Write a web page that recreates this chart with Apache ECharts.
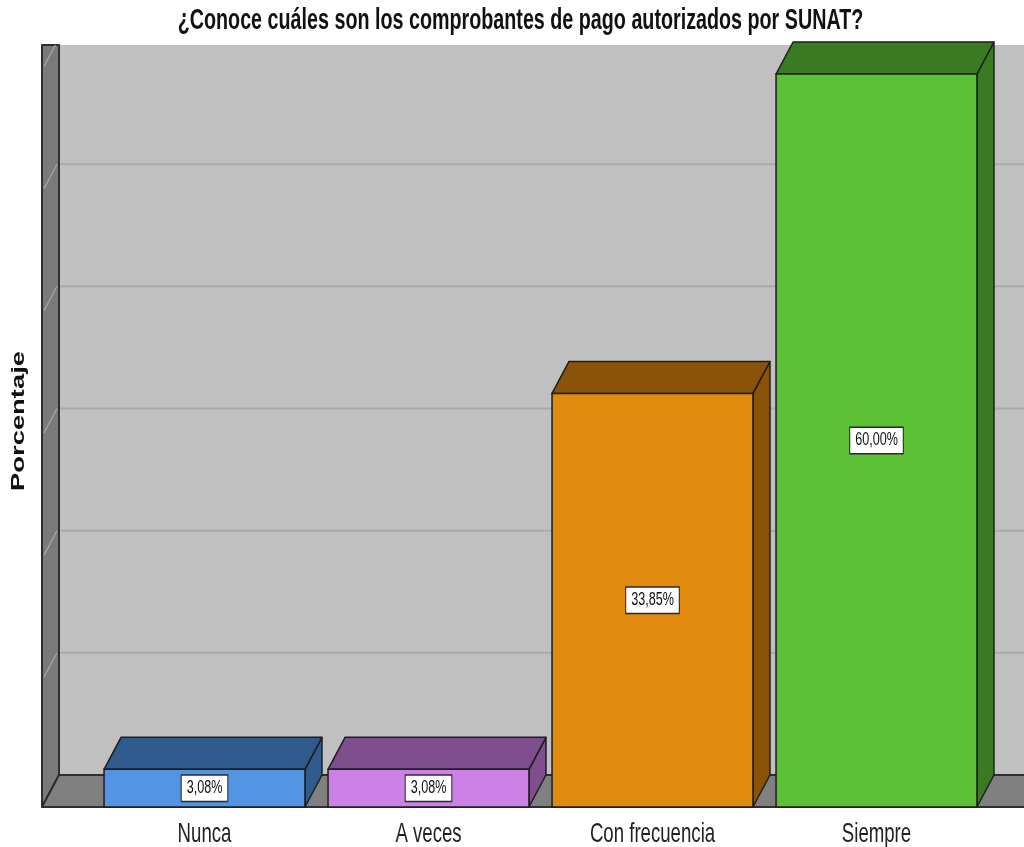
<!DOCTYPE html>
<html>
<head>
<meta charset="utf-8">
<script src="https://cdn.jsdelivr.net/npm/echarts@6/dist/echarts.min.js"></script>
<style>
html,body{margin:0;padding:0;background:#fff;}
#chart{width:1024px;height:847px;}
</style>
</head>
<body>
<div id="chart"></div>
<script>
const titleText = '¿Conoce cuáles son los comprobantes de pago autorizados por SUNAT?';
const yAxisTitle = 'Porcentaje';
const categories = ['Nunca', 'A veces', 'Con frecuencia', 'Siempre'];
const percentages = [3.08, 3.08, 33.85, 60.00];
const yTicks = [0, 10, 20, 30, 40, 50, 60];

const frontColors = ['#5394e3', '#cd80e6', '#e08a10', '#5dc136'];
const topColors = ['#2f5b8f', '#7e4e8f', '#8a5408', '#3a7a22'];
const sideColors = ['#2f5b8f', '#7e4e8f', '#8a5408', '#3a7a22'];

const DX = 17, DY = -32;
const SQUEEZE = 0.665;
const FONT = '"Liberation Sans", Arial, sans-serif';

const chart = echarts.init(document.getElementById('chart'), null, {renderer: 'canvas'});

function wallsRender(params, api) {
  const cs = params.coordSys;
  const y0 = api.coord([0, 0])[1];
  const yTop = api.coord([0, yTicks[yTicks.length - 1]])[1];
  const x0 = cs.x - 50.5;
  const xR = 1040;
  const topClip = yTop + DY + 3;
  const children = [];
  children.push({type: 'rect', shape: {x: x0 + DX, y: topClip, width: xR - x0 - DX, height: y0 + DY - topClip},
    style: {fill: '#c0c0c0', stroke: null}});
  yTicks.forEach(function (v) {
    if (v === 0) return;
    const gy = api.coord([0, v])[1] + DY;
    if (gy > topClip) {
      children.push({type: 'line', shape: {x1: x0 + DX, y1: gy, x2: xR, y2: gy}, style: {stroke: '#aaaaaa', lineWidth: 2}});
    }
  });
  children.push({type: 'polygon', shape: {points: [[x0, y0], [x0 + DX, y0 + DY], [x0 + DX, topClip], [x0, topClip]]},
    style: {fill: '#7a7a7a', stroke: '#2e2e2e', lineWidth: 2, lineJoin: 'round'}});
  yTicks.forEach(function (v) {
    if (v === 0) return;
    const gy = api.coord([0, v])[1] + DY;
    let xa = x0 + DX - 2, ya = gy, xb = x0 + 2, yb = gy - DY * (DX - 4) / DX;
    if (ya < topClip) {
      const t = (topClip - ya) / (yb - ya);
      xa = xa + (xb - xa) * t; ya = topClip;
    }
    children.push({type: 'line', shape: {x1: xa, y1: ya, x2: xb, y2: yb}, style: {stroke: '#a8a8a8', lineWidth: 1.2}});
  });
  children.push({type: 'polygon', shape: {points: [[x0, y0], [x0 + DX, y0 + DY], [xR, y0 + DY], [xR, y0]]},
    style: {fill: '#808080', stroke: '#2e2e2e', lineWidth: 2, lineJoin: 'round'}});
  return {type: 'group', children: children};
}

function barRender(params, api) {
  const i = api.value(0);
  const v = api.value(1);
  const c = api.coord([i, v]);
  const b = api.coord([i, 0]);
  const w = api.size([1, 0])[0] * 0.897;
  const x1 = c[0] - w / 2, x2 = c[0] + w / 2, yt = c[1], yb = b[1];
  const stroke = '#1e1e1e';
  const label = v.toFixed(2).replace('.', ',') + '%';
  return {type: 'group', children: [
    {type: 'polygon', shape: {points: [[x2, yt], [x2 + DX, yt + DY], [x2 + DX, yb + DY], [x2, yb]]},
      style: {fill: sideColors[i], stroke: stroke, lineWidth: 1.5, lineJoin: 'round'}},
    {type: 'polygon', shape: {points: [[x1, yt], [x1 + DX, yt + DY], [x2 + DX, yt + DY], [x2, yt]]},
      style: {fill: topColors[i], stroke: stroke, lineWidth: 1.5, lineJoin: 'round'}},
    {type: 'rect', shape: {x: x1, y: yt, width: w, height: yb - yt},
      style: {fill: frontColors[i], stroke: stroke, lineWidth: 1.5}},
    {type: 'text', x: c[0], y: (yt + yb) / 2, scaleX: 0.7,
      style: {text: label, align: 'center', verticalAlign: 'middle', fill: '#111',
        font: '18px ' + FONT, backgroundColor: '#ffffff', borderColor: '#2a2a2a', borderWidth: 1.5,
        padding: [4, 7, 3, 7]}}
  ]};
}

function catLabelRender(params, api) {
  const i = api.value(0);
  const b = api.coord([i, 0]);
  return {type: 'text', x: b[0], y: b[1] + 27, scaleX: SQUEEZE,
    style: {text: categories[i], align: 'center', verticalAlign: 'middle', fill: '#222', font: '28px ' + FONT}};
}

const option = {
  backgroundColor: '#ffffff',
  animation: false,
  grid: {left: 92.5, right: 35.5, top: 74, bottom: 40, containLabel: false},
  xAxis: {
    type: 'category', data: categories,
    axisLine: {show: false}, axisTick: {show: false}, splitLine: {show: false},
    axisLabel: {show: false}
  },
  yAxis: {
    type: 'value', min: 0, max: 60, interval: 10,
    axisLine: {show: false}, axisTick: {show: false}, axisLabel: {show: false}, splitLine: {show: false}
  },
  graphic: [{
    type: 'text', x: 520.5, y: 21, scaleX: 0.68,
    style: {text: titleText, align: 'center', verticalAlign: 'middle',
      font: 'bold 29px ' + FONT, fill: '#111'}
  }, {
    type: 'text', x: 19, y: 421, rotation: Math.PI / 2, scaleX: 1.52,
    style: {text: yAxisTitle, align: 'center', verticalAlign: 'middle',
      font: 'bold 18px ' + FONT, fill: '#111'}
  }],
  series: [
    {type: 'custom', renderItem: wallsRender, data: [[0, 0]], silent: true, z: 1, clip: false},
    {type: 'custom', renderItem: barRender, data: percentages.map(function (v, i) { return [i, v]; }), z: 2, clip: false},
    {type: 'custom', renderItem: catLabelRender, data: categories.map(function (c, i) { return [i, 0]; }), z: 3, clip: false, silent: true}
  ]
};
chart.setOption(option);
</script>
</body>
</html>
